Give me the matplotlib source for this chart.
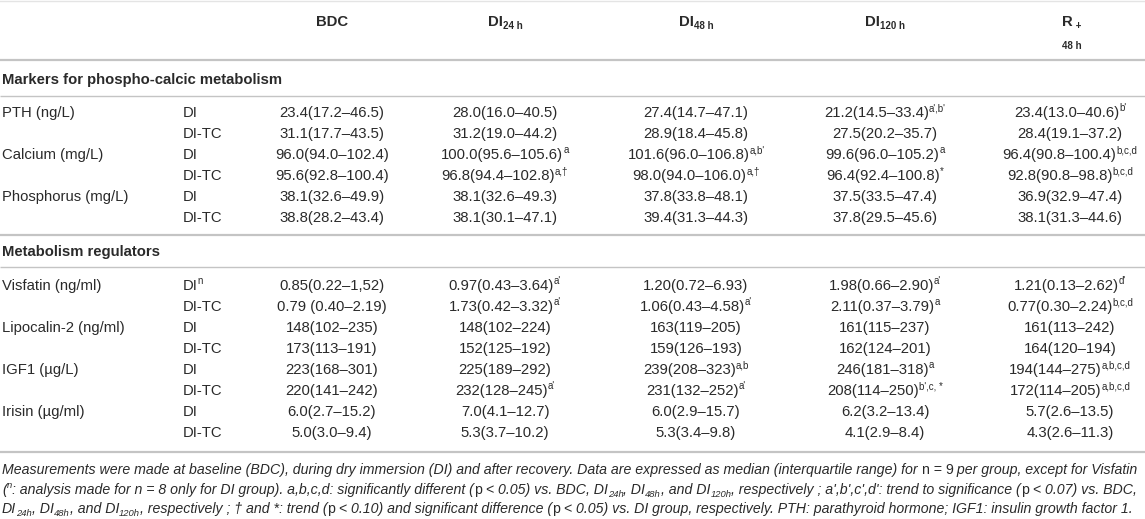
import matplotlib.pyplot as plt

# table content
params = ['PTH (ng/L)', 'Calcium (mg/L)', 'Phosphorus (mg/L)',
          'Visfatin (ng/ml)', 'Lipocalin-2 (ng/ml)', 'IGF1 (µg/L)', 'Irisin (µg/ml)']
groups = ['DI', 'DI-TC']
sections = ['Markers for phospho-calcic metabolism', 'Metabolism regulators']
section_sizes = [3, 4]

bdc = ['23.4(17.2–46.5)', '31.1(17.7–43.5)', '96.0(94.0–102.4)', '95.6(92.8–100.4)',
       '38.1(32.6–49.9)', '38.8(28.2–43.4)', '0.85(0.22–1,52)', '0.79 (0.40–2.19)',
       '148(102–235)', '173(113–191)', '223(168–301)', '220(141–242)',
       '6.0(2.7–15.2)', '5.0(3.0–9.4)']
bdc_sup = ['', '', '', '', '', '', '', '', '', '', '', '', '', '']

di24 = ['28.0(16.0–40.5)', '31.2(19.0–44.2)', '100.0(95.6–105.6)', '96.8(94.4–102.8)',
        '38.1(32.6–49.3)', '38.1(30.1–47.1)', '0.97(0.43–3.64)', '1.73(0.42–3.32)',
        '148(102–224)', '152(125–192)', '225(189–292)', '232(128–245)',
        '7.0(4.1–12.7)', '5.3(3.7–10.2)']
di24_sup = ['', '', 'a', 'a,†', '', '', "a'", "a'", '', '', '', "a'", '', '']

di48 = ['27.4(14.7–47.1)', '28.9(18.4–45.8)', '101.6(96.0–106.8)', '98.0(94.0–106.0)',
        '37.8(33.8–48.1)', '39.4(31.3–44.3)', '1.20(0.72–6.93)', '1.06(0.43–4.58)',
        '163(119–205)', '159(126–193)', '239(208–323)', '231(132–252)',
        '6.0(2.9–15.7)', '5.3(3.4–9.8)']
di48_sup = ['', '', "a,b'", 'a,†', '', '', '', "a'", '', '', 'a,b', "a'", '', '']

di120 = ['21.2(14.5–33.4)', '27.5(20.2–35.7)', '99.6(96.0–105.2)', '96.4(92.4–100.8)',
         '37.5(33.5–47.4)', '37.8(29.5–45.6)', '1.98(0.66–2.90)', '2.11(0.37–3.79)',
         '161(115–237)', '162(124–201)', '246(181–318)', '208(114–250)',
         '6.2(3.2–13.4)', '4.1(2.9–8.4)']
di120_sup = ["a',b'", '', 'a', '*', '', '', "a'", 'a', '', '', 'a', "b',c, *", '', '']

r48 = ['23.4(13.0–40.6)', '28.4(19.1–37.2)', '96.4(90.8–100.4)', '92.8(90.8–98.8)',
       '36.9(32.9–47.4)', '38.1(31.3–44.6)', '1.21(0.13–2.62)', '0.77(0.30–2.24)',
       '161(113–242)', '164(120–194)', '194(144–275)', '172(114–205)',
       '5.7(2.6–13.5)', '4.3(2.6–11.3)']
r48_sup = ["b'", '', 'b,c,d', 'b,c,d', '', '', "d'", 'b,c,d', '', '', 'a,b,c,d', 'a,b,c,d', '', '']

columns = [(bdc, bdc_sup), (di24, di24_sup), (di48, di48_sup), (di120, di120_sup), (r48, r48_sup)]
headers = [[('BDC', '')], [('DI', ''), ('24 h', 'sub')], [('DI', ''), ('48 h', 'sub')],
           [('DI', ''), ('120 h', 'sub')]]

# footnote, parts: (text, kind, italic)
note1 = [('Measurements were made at baseline (BDC), during dry immersion (DI) and after recovery. '
          'Data are expressed as median (interquartile range) for ', '', True), ('n = 9', '', False),
         (' per group, except for Visfatin', '', True)]
note2 = [('(', '', True), ('n', 'sup', True),
         (': analysis made for n = 8 only for DI group). a,b,c,d: significantly different (', '', True),
         ('p', '', False), (' < 0.05) vs. BDC, DI', '', True), ('24h', 'sub', True), (', DI', '', True),
         ('48h', 'sub', True), (', and DI', '', True), ('120h', 'sub', True),
         (", respectively ; a',b',c',d': trend to significance (", '', True), ('p', '', False),
         (' < 0.07) vs. BDC,', '', True)]
note3 = [('DI', '', True), ('24h', 'sub', True), (', DI', '', True), ('48h', 'sub', True),
         (', and DI', '', True), ('120h', 'sub', True),
         (', respectively ; † and *: trend (', '', True), ('p', '', False),
         (' < 0.10) and significant difference (', '', True), ('p', '', False),
         (' < 0.05) vs. DI group, respectively. PTH: parathyroid hormone; '
          'IGF1: insulin growth factor 1.', '', True)]

FONT = 'Liberation Sans'
SIZE = 10.7
TXT = '#2a2a2a'
RULE = '#c4c4c4'

fig = plt.figure(figsize=(11.45, 5.19), dpi=100)
ax = fig.add_axes([0, 0, 1, 1])
ax.set_xlim(0, 1145)
ax.set_ylim(519, 0)
ax.axis('off')
renderer = fig.canvas.get_renderer()


def rich(x, y, parts, ha='left', size=SIZE, weight='normal'):
    # y is the middle of the capitals of the main text
    px = size * 100 / 72.0
    base = y + 0.36 * px
    items = []
    for p in parts:
        txt, kind = p[0], p[1]
        italic = p[2] if len(p) > 2 else False
        s = size * 0.66 if kind else size
        if kind == 'sup':
            b = base - 0.42 * px
        elif kind == 'sub':
            b = base + 0.18 * px
        else:
            b = base
        t = ax.text(0, b, txt, fontsize=s, family=FONT, color=TXT, weight=weight,
                    style='italic' if italic else 'normal', va='baseline', ha='left')
        items.append(t)
    widths = [t.get_window_extent(renderer).width for t in items]
    total = sum(widths)
    x0 = x - total / 2 if ha == 'center' else x
    for t, w in zip(items, widths):
        t.set_x(x0)
        x0 += w
    return total


col_x = [332, 505, 696, 885, 1070]
label_x = 2
group_x = 183

# rules
ax.plot([0, 1145], [0.8, 0.8], color='#e4e4e4', lw=1.0)
for yy, lw in [(60, 1.6), (96, 1.0), (235, 1.6), (267, 1.0), (452, 1.6)]:
    ax.plot([0, 1145], [yy, yy], color=RULE, lw=lw, solid_capstyle='butt')

# header
for cx, h in zip(col_x[:4], headers):
    rich(cx, 21, h, ha='center', weight='bold')
rich(1062, 21, [('R', ''), (' +', 'sub')], weight='bold')
rich(1062, 45, [('48 h', '')], size=SIZE * 0.66, weight='bold')

# body
y_sec = [79, 251]
y_first = [112, 285]
step = 21.0
r = 0
for si, sec in enumerate(sections):
    rich(label_x, y_sec[si], [(sec, '')], weight='bold')
    y = y_first[si]
    for k in range(section_sizes[si]):
        pi = sum(section_sizes[:si]) + k
        for g, grp in enumerate(groups):
            if g == 0:
                rich(label_x, y, [(params[pi], '')])
            gparts = [(grp, '')]
            if params[pi].startswith('Visfatin') and g == 0:
                gparts.append(('n', 'sup'))
            rich(group_x, y, gparts)
            for cx, (vals, sups) in zip(col_x, columns):
                parts = [(vals[r], '')]
                if sups[r]:
                    parts.append((sups[r], 'sup'))
                rich(cx, y, parts, ha='center')
            r += 1
            y += step

# footnote
for yy, note in zip([469, 489, 508], [note1, note2, note3]):
    rich(label_x, yy, note, size=10.2)

fig.savefig('out.png', dpi=100)
